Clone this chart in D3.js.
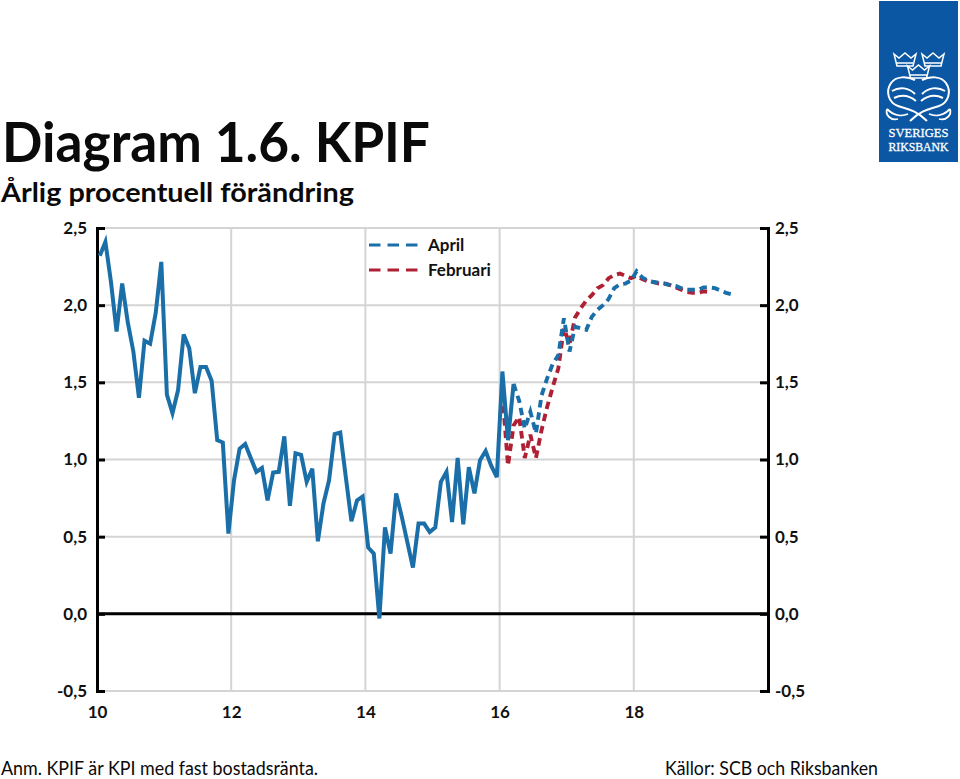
<!DOCTYPE html>
<html><head><meta charset="utf-8">
<script src="https://cdnjs.cloudflare.com/ajax/libs/d3/7.8.5/d3.min.js"></script>
<style>html,body{margin:0;background:#fff}svg{display:block}text{font-family:Lato,sans-serif}</style>
</head><body><svg id="c" width="960" height="779"></svg>
<script>
const yTicks=[2.5,2,1.5,1,0.5,0,-0.5];
const yearLabels=["10","12","14","16","18"];
const monthsTotal=120;
const outcome=[2.32,2.41,2.15,1.83,2.14,1.89,1.70,1.40,1.77,1.75,1.95,2.28,1.42,1.30,1.45,1.81,1.72,1.43,1.60,1.60,1.51,1.125,1.11,0.52,
0.865,1.07,1.10,1.01,0.92,0.945,0.735,0.915,0.92,1.15,0.70,1.04,1.03,0.855,0.94,0.47,0.715,0.865,1.165,1.175,0.885,0.60,0.735,0.76,
0.43,0.39,-0.03,0.56,0.39,0.78,0.63,0.465,0.30,0.585,0.585,0.53,0.56,0.855,0.92,0.595,1.01,0.58,0.95,0.78,0.995,1.055,0.96,0.885,
1.57,1.125,1.49];
const aprilStart=74;
const april=[1.49,1.38,1.20,1.31,1.17,1.415,1.525,1.62,1.675,1.915,1.70,1.86,1.85,1.84,1.925,1.97,2.0,2.04,2.11,2.135,2.14,2.16,2.22,2.18,2.16,2.15,2.145,2.14,2.13,2.125,2.11,2.10,2.10,2.10,2.115,2.115,2.11,2.095,2.08,2.07];
const februariStart=72;
const februari=[1.43,0.96,1.22,1.275,1.01,1.16,1.01,1.19,1.34,1.47,1.59,1.85,1.75,1.92,1.98,2.03,2.065,2.11,2.13,2.175,2.195,2.205,2.19,2.175,2.19,2.17,2.155,2.15,2.14,2.14,2.13,2.115,2.10,2.085,2.08,2.08,2.09,2.085];
const legendItems=[["April","#1a6fa8"],["Februari","#b02035"]];

const svg=d3.select("#c");
const x=d3.scaleBand().domain(d3.range(monthsTotal)).range([97,768]);
const y=d3.scaleLinear().domain([-0.5,2.5]).range([691,228]);
const fmt=v=>d3.format(".1f")(v).replace(".",",").replace("−","-");
const grid="#d4d4d4";

svg.append("g").selectAll("line").data(yTicks).join("line")
 .attr("x1",x.range()[0]).attr("x2",x.range()[1]).attr("y1",y).attr("y2",y)
 .attr("stroke",grid).attr("stroke-width",2);
svg.append("g").selectAll("line").data(yearLabels.slice(1)).join("line")
 .attr("x1",(d,i)=>x((i+1)*24)).attr("x2",(d,i)=>x((i+1)*24)).attr("y1",y(2.5)).attr("y2",y(-0.5))
 .attr("stroke",grid).attr("stroke-width",2);

svg.append("line").attr("x1",x.range()[0]).attr("x2",x.range()[1]).attr("y1",y(0)).attr("y2",y(0)).attr("stroke","#000").attr("stroke-width",3);

const fontCfg=g=>{g.selectAll("text").attr("font-family","Lato,sans-serif").attr("font-weight",700).attr("font-size",17).attr("fill","#111");};
const axL=d3.axisLeft(y).tickValues(yTicks).tickFormat(fmt).tickSize(-8).tickPadding(10);
const axR=d3.axisRight(y).tickValues(yTicks).tickFormat(fmt).tickSize(-8).tickPadding(7);
[[axL,x.range()[0]],[axR,x.range()[1]]].forEach(([a,px])=>{
 const g=svg.append("g").attr("transform",`translate(${px},0)`).call(a).call(fontCfg);
 g.select(".domain").attr("stroke","#000").attr("stroke-width",3);
 g.selectAll(".tick line").attr("stroke","#000").attr("stroke-width",3);
});
const axB=d3.axisBottom(d3.scalePoint().domain(yearLabels).range([x(0),x(96)])).tickSize(0).tickPadding(15);
const gb=svg.append("g").attr("transform",`translate(0,${y(-0.5)})`).call(axB).call(fontCfg);
gb.select(".domain").remove();

const line=d3.line().x(d=>x(d[0])+x.bandwidth()/2).y(d=>y(d[1]));
const seq=(start,arr)=>arr.map((v,i)=>[start+i,v]);
const dash="7.5 5";
svg.append("path").datum(seq(februariStart,februari)).attr("d",line).attr("fill","none").attr("stroke",legendItems[1][1]).attr("stroke-width",3.9).attr("stroke-dasharray",dash);
svg.append("path").datum(seq(aprilStart,april)).attr("d",line).attr("fill","none").attr("stroke",legendItems[0][1]).attr("stroke-width",3.9).attr("stroke-dasharray",dash);
svg.append("path").datum(seq(0,outcome)).attr("d",line).attr("fill","none").attr("stroke",legendItems[0][1]).attr("stroke-width",4);

const lg=svg.append("g").selectAll("g").data(legendItems).join("g").attr("transform",(d,i)=>`translate(369,${245+i*25})`);
lg.append("line").attr("x2",51).attr("stroke",d=>d[1]).attr("stroke-width",3.2).attr("stroke-dasharray","11.5 7");
lg.append("text").attr("x",59).attr("y",6).attr("font-weight",700).attr("font-size",17).attr("fill","#111").text(d=>d[0]);

const t=(tx,ty,size,weight,len,s)=>svg.append("text").attr("x",tx).attr("y",ty).attr("font-size",size).attr("font-weight",weight).attr("textLength",len).attr("lengthAdjust","spacingAndGlyphs").attr("fill","#0a0a0a").text(s);
t(2,162,55,700,428,"Diagram 1.6. KPIF");
t(1,202,27,700,353,"Årlig procentuell förändring");
t(1,775,18.5,400,317,"Anm. KPIF är KPI med fast bostadsränta.");
t(665,775,18.5,400,213,"Källor: SCB och Riksbanken");

const logo=svg.append("g").attr("transform","translate(879,1)");
logo.append("rect").attr("width",79).attr("height",161).attr("fill","#0c57a4");
const crown="M-11,-6 L-6,-2 L0,-7 L6,-2 L11,-6 L8,6 L-8,6 Z M-8,3 L8,3";
[[26,59],[54,59],[39.5,71]].forEach(p=>logo.append("path").attr("d",crown).attr("transform",`translate(${p[0]},${p[1]})`).attr("fill","none").attr("stroke","#fff").attr("stroke-width",1.5));
logo.append("path").attr("d","M36,79 C28,75 17,75 12,82 C6,91 10,102 19,105 C27,108 36,108 48,120 M43,79 C51,75 62,75 67,82 C73,91 69,102 60,105 C52,108 43,108 31,120").attr("fill","none").attr("stroke","#fff").attr("stroke-width",2);
logo.append("path").attr("d","M13,90 C21,85 30,87 36,93 M15,97 C23,93 31,95 37,100 M66,90 C58,85 49,87 43,93 M64,97 C56,93 48,95 42,100").attr("fill","none").attr("stroke","#fff").attr("stroke-width",2);
logo.append("path").attr("d","M8,108 C14,114 22,116 29,113 M8,108 C6,114 12,120 19,118 M71,108 C65,114 57,116 50,113 M71,108 C73,114 67,120 60,118").attr("fill","none").attr("stroke","#fff").attr("stroke-width",1.8);
logo.selectAll("text.b").data(["SVERIGES","RIKSBANK"]).join("text").attr("class","b").attr("x",39.5).attr("y",(d,i)=>136+i*13.5).attr("text-anchor","middle")
 .attr("font-size",13).attr("font-weight",400).attr("fill","#fff").style("font-family",'"Liberation Serif",serif').style("stroke","#fff").style("stroke-width",0.3).attr("textLength",60).attr("lengthAdjust","spacingAndGlyphs").text(d=>d);
</script></body></html>
